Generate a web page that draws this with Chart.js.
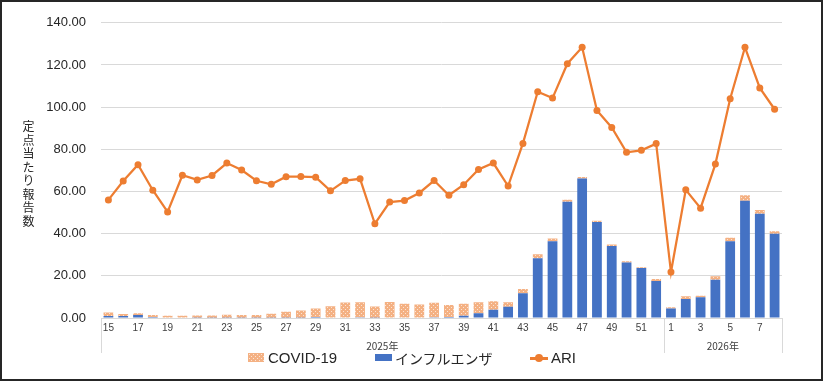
<!DOCTYPE html>
<html lang="ja">
<head>
<meta charset="utf-8">
<script src="https://cdn.jsdelivr.net/npm/chart.js@4"></script>
<style>
  html, body { margin: 0; padding: 0; background: #fff; }
  #wrap { position: relative; width: 823px; height: 381px; overflow: hidden;
          font-family: "Liberation Sans", "Noto Sans CJK JP", sans-serif; color: #262626; }
  #frame { position: absolute; left: 0; top: 0; width: 823px; height: 381px; box-sizing: border-box;
           border: 2px solid #262626; pointer-events: none; }
  #chart { position: absolute; left: 0; top: 0; }
  #ytitle { position: absolute; left: 22px; top: 119px; width: 13px; text-align: center;
            font: 12px "Noto Sans CJK JP"; line-height: 13.5px; word-break: break-all; }
  .lg { position: absolute; top: 350px; height: 16px; line-height: 16px; font-size: 15px; white-space: nowrap; }
  .jp { font-family: "Noto Sans CJK JP"; font-size: 14px; }
  .sw { position: absolute; }
</style>
</head>
<body>
<div id="wrap">
  <canvas id="chart" width="823" height="381"></canvas>
  <div id="ytitle">定点当たり報告数</div>

  <div class="sw" id="covidSwatch" style="left:248px; top:353px; width:16px; height:9px;"></div>
  <div class="lg" style="left:268px;">COVID-19</div>

  <div class="sw" style="left:375px; top:354px; width:17px; height:7px; background:#4472C4;"></div>
  <div class="lg jp" style="left:395px;">インフルエンザ</div>

  <div class="sw" style="left:530px; top:357px; width:18px; height:2.5px; background:#ED7D31;"></div>
  <div class="sw" style="left:535px; top:354px; width:8px; height:8px; border-radius:50%; background:#ED7D31;"></div>
  <div class="lg" style="left:551px;">ARI</div>

  <div id="frame"></div>
</div>

<script>
// week numbers (2025: wk15-52, 2026: wk1-8)
const weeks2025 = [15, 16, 17, 18, 19, 20, 21, 22, 23, 24, 25, 26, 27, 28, 29, 30, 31, 32, 33, 34,
                   35, 36, 37, 38, 39, 40, 41, 42, 43, 44, 45, 46, 47, 48, 49, 50, 51, 52];
const weeks2026 = [1, 2, 3, 4, 5, 6, 7, 8];
const yearLabels = ['2025年', '2026年'];

// reports per sentinel site
const flu = [0.9, 0.9, 1.4, 0.5, 0.2, 0.2, 0.1, 0.1, 0.1, 0.1, 0.1, 0.1, 0.1, 0.1, 0.5, 0.2, 0.2, 0.3, 0.1, 0.2,
             0.2, 0.2, 0.4, 0.5, 1.1, 2.3, 3.9, 5.3, 11.7, 28.3, 36.4, 55.1, 66.2, 45.5, 34.1, 26.3, 23.7, 17.6,
             4.5, 9.0, 9.8, 18.1, 36.4, 55.6, 49.4, 40.0];
const covid = [1.7, 1.0, 0.9, 0.9, 0.9, 0.9, 1.1, 1.1, 1.4, 1.3, 1.3, 1.9, 2.9, 3.4, 4.0, 5.4, 7.1, 7.2, 5.3, 7.4,
               6.6, 6.2, 6.8, 5.7, 5.6, 5.2, 4.0, 2.2, 2.0, 1.9, 1.3, 1.0, 0.7, 0.6, 0.8, 0.6, 0.4, 0.9,
               0.6, 1.3, 0.8, 1.7, 1.6, 2.6, 1.8, 1.2];
const ari = [56.0, 65.0, 72.7, 60.6, 50.3, 67.7, 65.5, 67.6, 73.5, 70.2, 65.1, 63.4, 67.0, 67.1, 66.8, 60.3, 65.2, 66.0, 44.7, 55.0,
             55.7, 59.3, 65.2, 58.2, 63.2, 70.4, 73.5, 62.6, 82.8, 107.3, 104.3, 120.6, 128.4, 98.4, 90.4, 78.6, 79.5, 82.7,
             21.8, 60.8, 52.1, 73.0, 104.0, 128.4, 109.1, 99.0];

const labels = weeks2025.concat(weeks2026).map(String);

const blue = '#4472C4';
const orange = '#ED7D31';

// dotted fill for the COVID-19 bars
function makePattern() {
  const c = document.createElement('canvas');
  c.width = 4;
  c.height = 4;
  const g = c.getContext('2d');
  g.fillStyle = '#F4B183';
  g.fillRect(0, 0, 4, 4);
  g.fillStyle = '#FCE4D6';
  g.fillRect(1, 1, 1, 1);
  g.fillRect(3, 3, 1, 1);
  return c;
}
const patternCanvas = makePattern();
const ctx = document.getElementById('chart').getContext('2d');
const covidFill = ctx.createPattern(patternCanvas, 'repeat');
document.getElementById('covidSwatch').style.background = 'url(' + patternCanvas.toDataURL() + ')';

// second row of the category axis: year groups and separators
const yearAxis = {
  id: 'yearAxis',
  afterDraw(chart) {
    const x = chart.scales.x;
    const c = chart.ctx;
    const half = (x.getPixelForValue(1) - x.getPixelForValue(0)) / 2;
    const left = x.getPixelForValue(0) - half;
    const split = x.getPixelForValue(weeks2025.length) - half;
    const right = x.getPixelForValue(labels.length - 1) + half;
    const top = chart.chartArea.bottom;
    c.save();
    c.strokeStyle = '#d9d9d9';
    c.lineWidth = 1;
    [left, split, right].forEach(px => {
      const xx = Math.round(px) + 0.5;
      c.beginPath();
      c.moveTo(xx, top);
      c.lineTo(xx, top + 35);
      c.stroke();
    });
    c.fillStyle = '#404040';
    c.font = '10px "Noto Sans CJK JP"';
    c.textAlign = 'center';
    c.textBaseline = 'middle';
    c.fillText(yearLabels[0], (left + split) / 2, top + 28);
    c.fillText(yearLabels[1], (split + right) / 2, top + 28);
    c.restore();
  }
};

new Chart(ctx, {
  data: {
    labels: labels,
    datasets: [
      {
        type: 'line',
        label: 'ARI',
        data: ari,
        borderColor: orange,
        backgroundColor: orange,
        borderWidth: 2.25,
        pointRadius: 3.5,
        pointHoverRadius: 3.5,
        pointBorderWidth: 0,
        tension: 0,
        stack: 'ari',
        order: 0,
      },
      {
        type: 'bar',
        label: 'インフルエンザ',
        data: flu,
        backgroundColor: blue,
        stack: 'bars',
        barPercentage: 0.66,
        categoryPercentage: 1.0,
        order: 1,
      },
      {
        type: 'bar',
        label: 'COVID-19',
        data: covid,
        backgroundColor: covidFill,
        stack: 'bars',
        barPercentage: 0.66,
        categoryPercentage: 1.0,
        order: 1,
      },
    ],
  },
  options: {
    responsive: false,
    animation: false,
    layout: { padding: { left: 0, top: 18, right: 41, bottom: 0 } },
    plugins: {
      legend: { display: false },
      tooltip: { enabled: false },
    },
    scales: {
      x: {
        stacked: true,
        grid: { display: false, drawTicks: false },
        border: { display: false },
        ticks: {
          autoSkip: false,
          maxRotation: 0,
          padding: 4,
          color: '#404040',
          font: { family: 'Liberation Sans', size: 10 },
          callback: (v, i) => (i % 2 === 0 ? labels[i] : ''),
        },
        afterFit: s => { s.height = 63; },
      },
      y: {
        stacked: true,
        min: 0,
        max: 140,
        ticks: {
          stepSize: 20,
          padding: 15,
          color: '#262626',
          font: { family: 'Liberation Sans', size: 13 },
          callback: v => v.toFixed(2),
        },
        grid: { color: '#d9d9d9', drawTicks: false },
        border: { display: false },
        afterFit: s => { s.width = 101; },
      },
    },
  },
  plugins: [yearAxis],
});
</script>
</body>
</html>
